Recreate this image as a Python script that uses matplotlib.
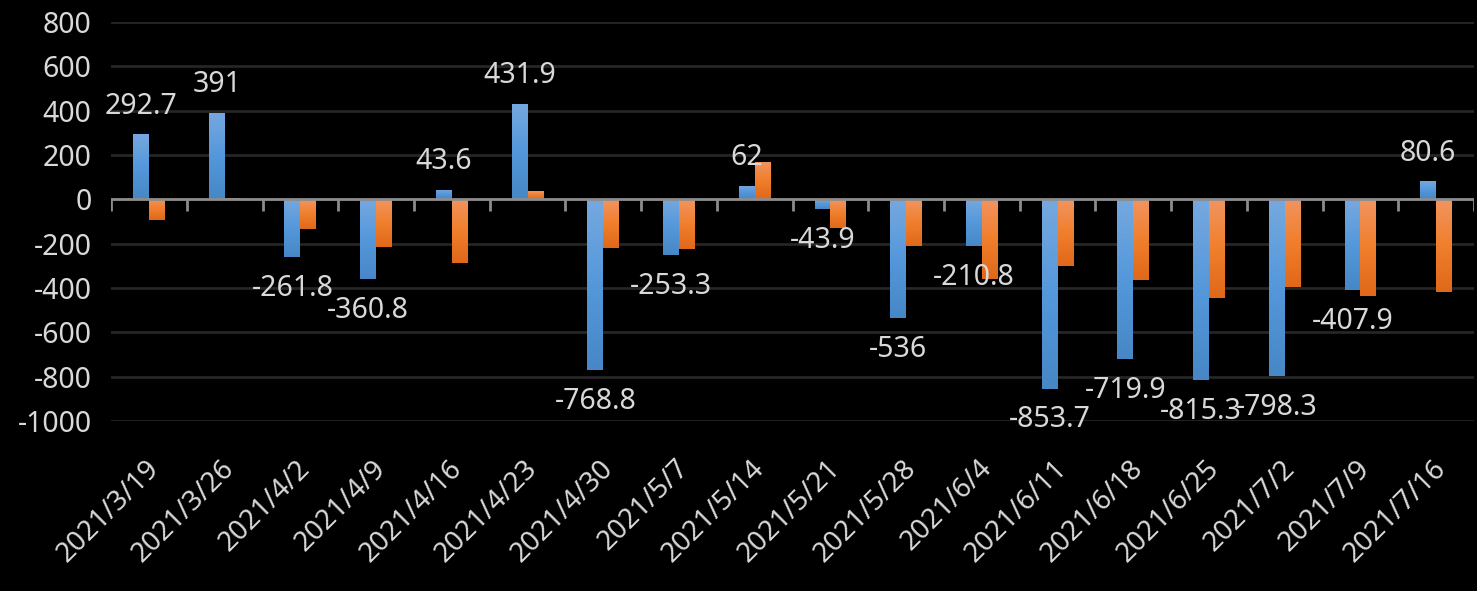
import numpy as np
import matplotlib.pyplot as plt
from matplotlib.colors import LinearSegmentedColormap
from matplotlib.transforms import ScaledTranslation

plt.rcParams["font.family"] = ["Noto Sans", "DejaVu Sans"]
plt.rcParams["axes.unicode_minus"] = False

dates = ["2021/3/19", "2021/3/26", "2021/4/2", "2021/4/9", "2021/4/16",
         "2021/4/23", "2021/4/30", "2021/5/7", "2021/5/14", "2021/5/21",
         "2021/5/28", "2021/6/4", "2021/6/11", "2021/6/18", "2021/6/25",
         "2021/7/2", "2021/7/9", "2021/7/16"]
blue_vals = [292.7, 391, -261.8, -360.8, 43.6, 431.9, -768.8, -253.3, 62,
             -43.9, -536, -210.8, -853.7, -719.9, -815.3, -798.3, -407.9, 80.6]
orange_vals = [-95, 4, -135, -216, -289, 36, -221, -225, 167, -128, -212,
               -361, -302, -365, -446, -397, -437, -419]

txt = "#D9D9D9"
fig = plt.figure(figsize=(14.77, 5.91), dpi=100, facecolor="black")
ax = fig.add_axes([0.0752, 0.2876, 0.9228, 0.6752], facecolor="black")

x = np.arange(len(dates))
w = 0.21

blue_cm = LinearSegmentedColormap.from_list("b", ["#76A8DF", "#5498DB", "#4787C6"])
orange_cm = LinearSegmentedColormap.from_list("o", ["#F29460", "#F07F2C", "#E0681A"])
grad = np.linspace(0, 1, 64).reshape(-1, 1)


def gradient_bars(xs, vals, cmap):
    bars = ax.bar(xs, vals, w, color="none", edgecolor="none", zorder=3)
    for b in bars:
        x0, y0 = b.get_x(), b.get_y()
        h = b.get_height()
        lo, hi = min(y0, y0 + h), max(y0, y0 + h)
        im = ax.imshow(grad, cmap=cmap, aspect="auto", origin="upper",
                       extent=[x0, x0 + b.get_width(), lo, hi], zorder=3)
        im.set_clip_path(b)
    return bars


gradient_bars(x - w / 2, blue_vals, blue_cm)
gradient_bars(x + w / 2, orange_vals, orange_cm)

ax.set_xlim(-0.5, len(dates) - 0.5)
ax.set_ylim(-1000, 800)
ax.set_yticks(np.arange(-1000, 801, 200))
ax.yaxis.grid(True, color="#262626", linewidth=2)
ax.set_axisbelow(True)

# zero axis with category tick marks
ax.axhline(0, color="#8C8C8C", linewidth=2, zorder=4)
ax.vlines(np.arange(len(dates) + 1) - 0.5, -54, 0, color="#8C8C8C",
          linewidth=2, zorder=4)

for s in ax.spines.values():
    s.set_visible(False)

ax.tick_params(axis="y", length=0, pad=14, labelsize=20.5, labelcolor=txt)
ax.tick_params(axis="x", length=0, pad=24, labelsize=20, labelcolor=txt)
ax.set_xticks(x)
ax.set_xticklabels(dates, rotation=45, ha="right", va="top",
                   rotation_mode="anchor")
off = ScaledTranslation(-4 / 100, 0, fig.dpi_scale_trans)
for lab in ax.get_xticklabels():
    lab.set_transform(lab.get_transform() + off)

for xi, v in zip(x - w / 2, blue_vals):
    dy = 15 if v >= 0 else -28
    ax.annotate(f"{v:g}", (xi, v), xytext=(0, dy), textcoords="offset points",
                ha="center", va="baseline", fontsize=20.5, color=txt, zorder=5)

fig.savefig("out.png", dpi=100, facecolor="black")
